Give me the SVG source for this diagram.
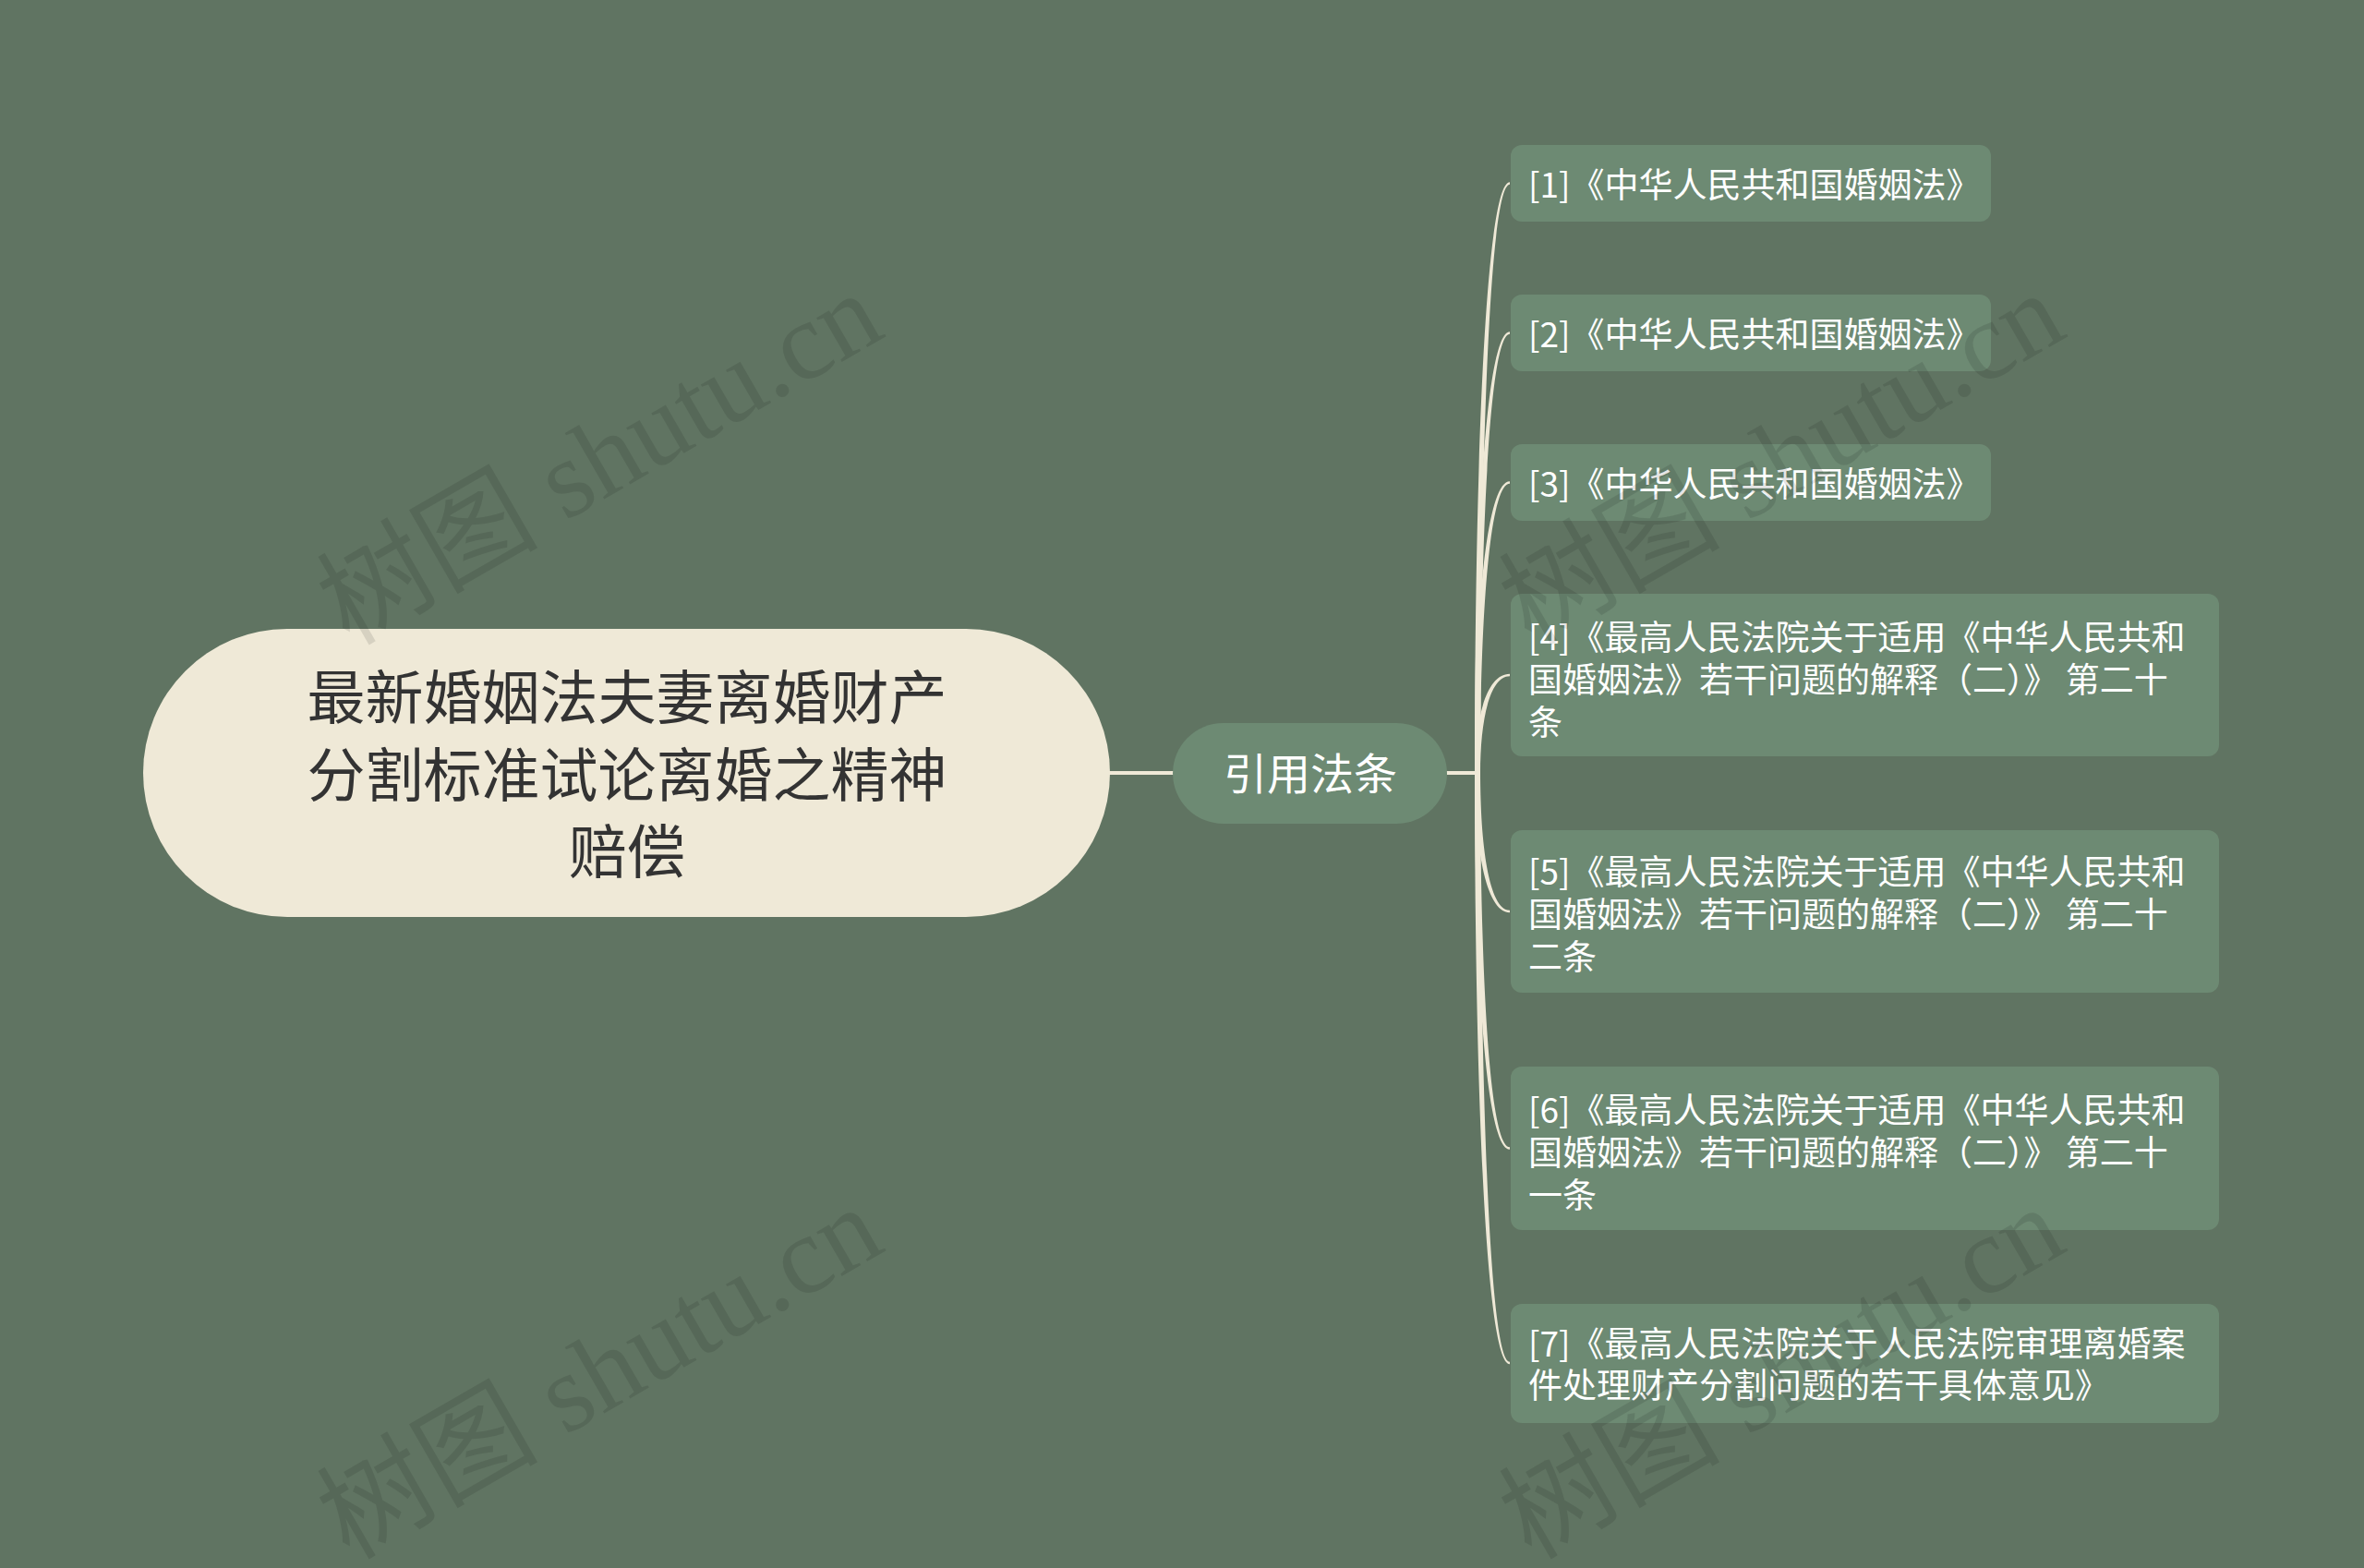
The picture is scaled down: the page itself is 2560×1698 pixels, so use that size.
<svg xmlns="http://www.w3.org/2000/svg" width="2560" height="1698" viewBox="0 0 2560 1698">
<style>
.bg{fill:#607462}
.root rect{fill:#efe9d7}
.root text{fill:#333333;font-family:"Noto Sans CJK SC","Liberation Sans",sans-serif;font-size:63px;text-anchor:middle}
.mid rect{fill:#6d8a73}
.mid text{fill:#ffffff;font-family:"Noto Sans CJK SC","Liberation Sans",sans-serif;font-size:47px;text-anchor:middle}
.leaf rect{fill:#6d8a73}
.leaf text{fill:#ffffff;font-family:"Noto Sans CJK SC","Liberation Sans",sans-serif;font-size:37px}
.conn{fill:#efe9d7}
.wm{fill:#000000;fill-opacity:0.1;font-family:"Liberation Serif","Noto Sans CJK SC",serif;font-size:120px}
</style>
<rect class="bg" x="0" y="0" width="2560" height="1698"/>

<g id="connectors">
  <rect class="conn" x="1198" y="835" width="74" height="4"/>
  <rect class="conn" x="1565" y="835" width="36" height="4"/>
  <path class="conn" d="M1597,837 C1597,518 1608,197.3 1635,197.3 L1635,199.7 C1612,199.7 1603,518 1603,837 Z"/>
  <path class="conn" d="M1597,837 C1597,599 1608,359.3 1635,359.3 L1635,361.7 C1612,361.7 1603,599 1603,837 Z"/>
  <path class="conn" d="M1597,837 C1597,680 1608,521.3 1635,521.3 L1635,523.7 C1612,523.7 1603,680 1603,837 Z"/>
  <path class="conn" d="M1597,837 C1597,784 1608,729.8 1635,729.8 L1635,732.2 C1612,732.2 1603,784 1603,837 Z"/>
  <path class="conn" d="M1597,837 C1597,912 1608,988.2 1635,988.2 L1635,985.8 C1612,985.8 1603,912 1603,837 Z"/>
  <path class="conn" d="M1597,837 C1597,1040 1608,1244.7 1635,1244.7 L1635,1242.3 C1612,1242.3 1603,1040 1603,837 Z"/>
  <path class="conn" d="M1597,837 C1597,1156 1608,1477.2 1635,1477.2 L1635,1474.8 C1612,1474.8 1603,1156 1603,837 Z"/>
</g>

<g id="root" class="root">
  <rect x="155" y="681" width="1047" height="312" rx="156" ry="156"/>
  <text x="679" y="778">最新婚姻法夫妻离婚财产</text>
  <text x="679" y="862">分割标准试论离婚之精神</text>
  <text x="679" y="945">赔偿</text>
</g>

<g id="mid" class="mid">
  <rect x="1270" y="783" width="297" height="109" rx="54.5" ry="54.5"/>
  <text x="1419" y="855">引用法条</text>
</g>

<g id="leaf1" class="leaf">
  <rect x="1636" y="157" width="520" height="83" rx="12" ry="12"/>
  <text x="1655" y="214">[1]《中华人民共和国婚姻法》</text>
</g>
<g id="leaf2" class="leaf">
  <rect x="1636" y="319" width="520" height="83" rx="12" ry="12"/>
  <text x="1655" y="376">[2]《中华人民共和国婚姻法》</text>
</g>
<g id="leaf3" class="leaf">
  <rect x="1636" y="481" width="520" height="83" rx="12" ry="12"/>
  <text x="1655" y="538">[3]《中华人民共和国婚姻法》</text>
</g>
<g id="leaf4" class="leaf">
  <rect x="1636" y="643" width="767" height="176" rx="12" ry="12"/>
  <text x="1655" y="704">[4]《最高人民法院关于适用《中华人民共和</text>
  <text x="1655" y="750">国婚姻法》若干问题的解释（二）》 第二十</text>
  <text x="1655" y="796">条</text>
</g>
<g id="leaf5" class="leaf">
  <rect x="1636" y="899" width="767" height="176" rx="12" ry="12"/>
  <text x="1655" y="958">[5]《最高人民法院关于适用《中华人民共和</text>
  <text x="1655" y="1004">国婚姻法》若干问题的解释（二）》 第二十</text>
  <text x="1655" y="1050">二条</text>
</g>
<g id="leaf6" class="leaf">
  <rect x="1636" y="1155" width="767" height="177" rx="12" ry="12"/>
  <text x="1655" y="1216">[6]《最高人民法院关于适用《中华人民共和</text>
  <text x="1655" y="1262">国婚姻法》若干问题的解释（二）》 第二十</text>
  <text x="1655" y="1308">一条</text>
</g>
<g id="leaf7" class="leaf">
  <rect x="1636" y="1412" width="767" height="129" rx="12" ry="12"/>
  <text x="1655" y="1469">[7]《最高人民法院关于人民法院审理离婚案</text>
  <text x="1655" y="1514">件处理财产分割问题的若干具体意见》</text>
</g>

<g id="watermarks">
  <text class="wm" x="378" y="700" transform="rotate(-30 378 700)">树图 shutu.cn</text>
  <text class="wm" x="1658" y="700" transform="rotate(-30 1658 700)">树图 shutu.cn</text>
  <text class="wm" x="378" y="1690" transform="rotate(-30 378 1690)">树图 shutu.cn</text>
  <text class="wm" x="1658" y="1690" transform="rotate(-30 1658 1690)">树图 shutu.cn</text>
</g>
</svg>
